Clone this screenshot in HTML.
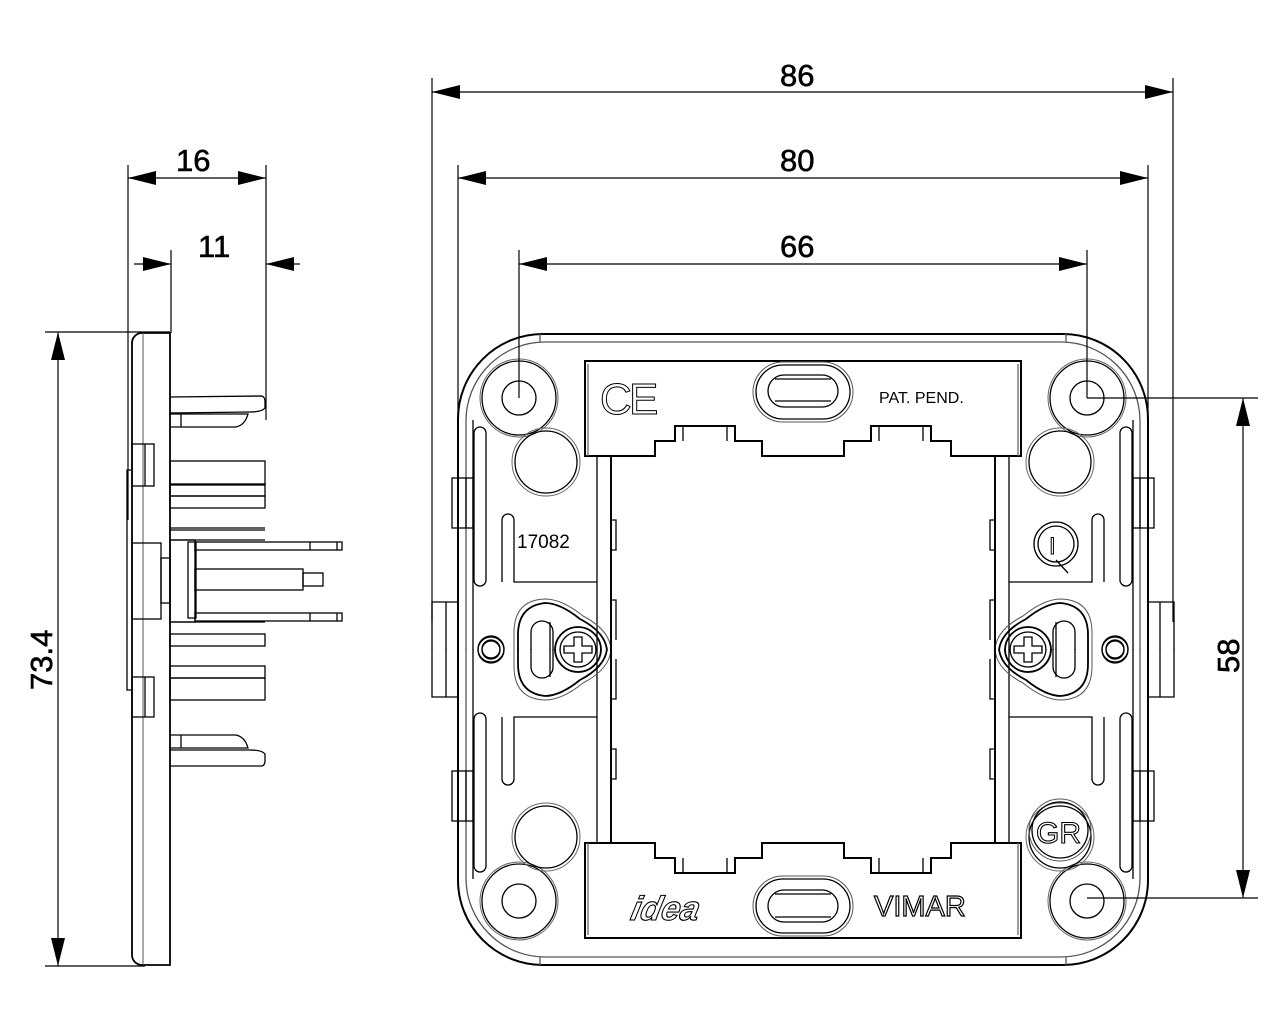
<!DOCTYPE html>
<html><head><meta charset="utf-8"><style>
html,body{margin:0;padding:0;background:#fff;}
svg{display:block;}
text{font-family:"Liberation Sans",sans-serif;}
</style></head><body>
<svg width="1280" height="1024" viewBox="0 0 1280 1024" xmlns="http://www.w3.org/2000/svg" fill="none" stroke="#000" stroke-width="1.3">
<defs>
<g id="q">
  <path d="M803,334 L543,334 A85,85 0 0 0 458,419 L458,650" stroke-width="2"/>
  <path d="M803,342 L545,342 A79,79 0 0 0 466,421 L466,650" stroke="#555"/>
  <line x1="540" y1="334" x2="540" y2="342" stroke="#555"/>
  <rect x="452" y="478" width="21" height="50"/>
  <line x1="466" y1="478" x2="466" y2="528"/>
  <path d="M458,602 L432,602 L432,650"/>
  <path d="M446,602 L446,650"/>
  <line x1="473" y1="420" x2="473" y2="650"/>
  <path d="M474,433 A6,6 0 0 1 486,433 L486,580 A6,6 0 0 1 474,580 Z"/>
  <path d="M502,582 L502,520 A6,6 0 0 1 514,520 L514,582 L597,582"/>
  <circle cx="519" cy="398" r="17"/>
  <circle cx="519" cy="398" r="37"/>
  <circle cx="519" cy="398" r="39" stroke="#666" stroke-width="1"/>
  <circle cx="546" cy="462" r="31"/>
  <circle cx="546" cy="462" r="34" stroke="#666" stroke-width="1"/>
  <path d="M803,361 L585,361 L585,456 L655,456 L655,441 L675,441 L675,426 L735,426 L735,441 L762,441 L762,456 L803,456" stroke-width="2"/>
  <path d="M683,441 L683,426 M727,441 L727,426"/>
  <line x1="588" y1="364" x2="588" y2="456" stroke="#666"/>
  <line x1="597" y1="456" x2="597" y2="650"/>
  <line x1="611" y1="456" x2="611" y2="650" stroke-width="1.8"/>
  <path d="M611,520 L616,520 L616,550 L611,550 M611,600 L616,600 L616,640"/>
  <circle cx="491" cy="650" r="13"/>
  <circle cx="491" cy="650" r="9"/>
  <path d="M518,650 L518,635 Q518,606 545,603 Q560,603 580,619 Q605,632 607,650" stroke-width="1.8"/>
  <path d="M514,650 L514,633 Q514,600 545,599 Q562,599 583,616 Q610,630 611,650" stroke="#555" stroke-width="1"/>
  <path d="M531,650 L531,632 A11,11 0 0 1 553,632 L553,650"/>
  <line x1="550" y1="622" x2="550" y2="650"/>
  <path d="M555,650 A23,23 0 0 1 601,650" stroke-width="1.8"/>
  <path d="M560,650 A18,18 0 0 1 596,650"/>
  <path d="M564,650 L564,646 L574,646 L574,637 L582,637 L582,646 L592,646 L592,650"/>
</g>
</defs>
<use href="#q"/>
<use href="#q" transform="translate(1606,0) scale(-1,1)"/>
<use href="#q" transform="translate(0,1299) scale(1,-1)"/>
<use href="#q" transform="translate(1606,1299) scale(-1,-1)"/>
<rect x="753" y="362" width="100" height="60" rx="30" stroke="#555" stroke-width="1"/>
<rect x="756" y="365" width="94" height="54" rx="27"/>
<rect x="768" y="375" width="70" height="32" rx="16"/>
<line x1="775" y1="379" x2="831" y2="379"/><line x1="775" y1="401" x2="831" y2="401"/>
<rect x="753" y="876" width="100" height="60" rx="30" stroke="#555" stroke-width="1"/>
<rect x="756" y="879" width="94" height="54" rx="27"/>
<rect x="768" y="890" width="70" height="32" rx="16"/>
<line x1="775" y1="894" x2="831" y2="894"/><line x1="775" y1="917" x2="831" y2="917"/>
<text x="600" y="414" font-size="44" fill="none" stroke="#000" stroke-width="1">C</text>
<text x="629" y="414" font-size="44" fill="none" stroke="#000" stroke-width="1">E</text>
<text x="879" y="403" font-size="16" fill="#000" stroke="none">PAT. PEND.</text>
<text x="517" y="548" font-size="19" fill="#000" stroke="none">17082</text>
<text x="874" y="916" font-size="29" fill="none" stroke="#000" stroke-width="1.2">VIMAR</text>
<text x="630" y="920" font-size="34" font-style="italic" font-weight="bold" fill="none" stroke="#000" stroke-width="1.1" transform="translate(195,0) skewX(-12)">idea</text>
<circle cx="1060" cy="830" r="31" stroke="#555" stroke-width="1"/>
<circle cx="1060" cy="830" r="28"/>
<text x="1036" y="843" font-size="30" fill="none" stroke="#000" stroke-width="1.1">GR</text>
<circle cx="1056" cy="544" r="22"/><circle cx="1056" cy="544" r="18"/>
<path d="M1056,560 L1068,573"/>
<text x="1049" y="554" font-size="24" fill="none" stroke="#000" stroke-width="1">I</text>
<line x1="611" y1="456" x2="611" y2="843" stroke-width="1.8"/>
<line x1="995" y1="456" x2="995" y2="843" stroke-width="1.8"/>

<g stroke-width="1.2">
<line x1="432" y1="78" x2="432" y2="622"/>
<line x1="1173" y1="78" x2="1173" y2="622"/>
<line x1="458" y1="165" x2="458" y2="419"/>
<line x1="1148" y1="165" x2="1148" y2="419"/>
<line x1="519" y1="250" x2="519" y2="398"/>
<line x1="1087" y1="250" x2="1087" y2="398"/>
<line x1="432" y1="92" x2="1173" y2="92"/>
<line x1="458" y1="178" x2="1148" y2="178"/>
<line x1="519" y1="264" x2="1087" y2="264"/>
<line x1="1087" y1="398" x2="1258" y2="398"/>
<line x1="1087" y1="898" x2="1258" y2="898"/>
<line x1="1243" y1="398" x2="1243" y2="898"/>
</g>
<g fill="#000" stroke="none">
<path d="M432,92 l28,-7 v14z"/><path d="M1173,92 l-28,-7 v14z"/>
<path d="M458,178 l28,-7 v14z"/><path d="M1148,178 l-28,-7 v14z"/>
<path d="M519,264 l28,-7 v14z"/><path d="M1087,264 l-28,-7 v14z"/>
<path d="M1243,398 l-7,28 h14z"/><path d="M1243,898 l-7,-28 h14z"/>
</g>
<g fill="#000" stroke="#000" stroke-width="0.6" font-size="31">
<text x="780" y="86">86</text>
<text x="780" y="171">80</text>
<text x="780" y="257">66</text>
<text transform="translate(1239,673) rotate(-90)">58</text>
<text x="176" y="171">16</text>
<text x="198" y="257">11</text>
<text transform="translate(52,690) rotate(-90)">73.4</text>
</g>

<g stroke-width="1.2">
<line x1="128" y1="165" x2="128" y2="520"/>
<line x1="266" y1="165" x2="266" y2="420"/>
<line x1="128" y1="178" x2="266" y2="178"/>
<line x1="171" y1="250" x2="171" y2="333"/>
<line x1="134" y1="264" x2="171" y2="264"/>
<line x1="266" y1="264" x2="300" y2="264"/>
<line x1="45" y1="332" x2="170" y2="332"/>
<line x1="45" y1="966" x2="145" y2="966"/>
<line x1="58" y1="332" x2="58" y2="966"/>
</g>
<g fill="#000" stroke="none">
<path d="M128,178 l28,-7 v14z"/><path d="M266,178 l-28,-7 v14z"/>
<path d="M171,264 l-28,-7 v14z"/><path d="M266,264 l28,-7 v14z"/>
<path d="M58,332 l-7,28 h14z"/><path d="M58,966 l-7,-28 h14z"/>
</g>

<g>
<path d="M170,333 L142,333 A10,10 0 0 0 132,343 L132,955 A10,10 0 0 0 142,965 L170,965 Z" stroke-width="1.8"/>
<line x1="143" y1="333" x2="143" y2="965" stroke="#555" stroke-width="1"/>
<path d="M131,470 L127,470 L127,690 L131,690"/>
<rect x="132" y="444" width="22" height="42"/><line x1="145" y1="444" x2="145" y2="486"/>
<rect x="132" y="677" width="22" height="40"/><line x1="145" y1="677" x2="145" y2="717"/>
<rect x="132" y="543" width="29" height="76"/>
<rect x="161" y="558" width="9" height="45"/>
<path d="M170,397 L262,396 Q265,397 265,402 L265,408 Q262,412 250,412 L170,413"/>
<path d="M170,414 L248,414 Q245,425 236,427 L170,427"/>
<line x1="181" y1="414" x2="181" y2="427"/>
<rect x="170" y="461" width="95" height="24"/>
<rect x="170" y="484" width="95" height="12"/>
<rect x="170" y="496" width="95" height="12"/>
<line x1="170" y1="528" x2="265" y2="528"/>
<line x1="170" y1="530" x2="265" y2="530"/>
<line x1="170" y1="540" x2="265" y2="540"/>
<rect x="170" y="540" width="25" height="82"/>
<rect x="188" y="542" width="8" height="76"/>
<rect x="195" y="542" width="147" height="8"/>
<line x1="310" y1="542" x2="310" y2="550"/><line x1="337" y1="542" x2="337" y2="550"/>
<rect x="195" y="613" width="147" height="8"/>
<line x1="310" y1="613" x2="310" y2="621"/><line x1="337" y1="613" x2="337" y2="621"/>
<rect x="195" y="569" width="108" height="21"/>
<rect x="303" y="573" width="20" height="13"/>
<line x1="170" y1="622" x2="265" y2="622"/>
<rect x="170" y="634" width="95" height="12"/>
<rect x="170" y="666" width="95" height="12"/>
<rect x="170" y="678" width="95" height="22"/>
<path d="M170,735 L236,735 Q245,737 248,748 L170,748"/>
<line x1="181" y1="735" x2="181" y2="748"/>
<path d="M170,750 L250,750 Q262,750 265,754 L265,761 Q265,765 262,766 L170,766"/>
</g>
</svg>
</body></html>
